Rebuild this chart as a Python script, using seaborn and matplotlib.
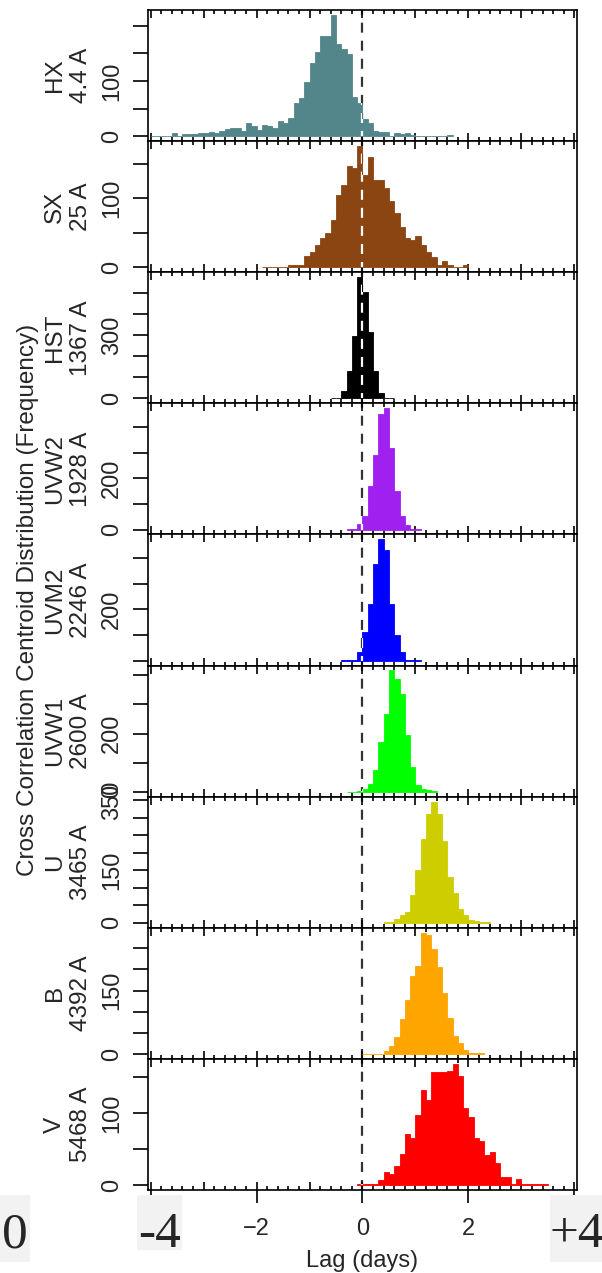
import numpy as np
import pandas as pd
import matplotlib
matplotlib.use("Agg")
import matplotlib.pyplot as plt
import seaborn as sns
from matplotlib.path import Path
from matplotlib.patches import Rectangle
from matplotlib.ticker import MultipleLocator, NullLocator

# ---- data -------------------------------------------------------------
bands = ["HX", "SX", "HST", "UVW2", "UVM2", "UVW1", "U", "B", "V"]
wavelengths = ["4.4 A", "25 A", "1367 A", "1928 A", "2246 A", "2600 A",
               "3465 A", "4392 A", "5468 A"]

bin_width = 0.1
# left edge (days) of the first histogram bin for each band
first_bin = [-4.0, -1.9, -0.6, -0.3, -0.4, -0.3, 0.4, 0.0, -0.1]

counts_hx = [1, 1, 1, 1, 5, 1, 4, 4, 4, 5, 6, 8, 6, 9, 14, 15, 15, 9, 24, 18,
             12, 21, 18, 15, 27, 24, 33, 60, 69, 99, 133, 152, 182, 182, 220,
             168, 158, 149, 71, 60, 32, 24, 10, 8, 8, 1, 5, 4, 6, 2, 1, 1, 1,
             1, 1, 1, 2]
counts_sx = [1, 1, 0, 1, 0, 4, 4, 4, 17, 22, 32, 42, 50, 69, 105, 120, 147,
             144, 176, 134, 160, 127, 127, 115, 96, 79, 58, 43, 40, 45, 32, 23,
             15, 4, 9, 4, 1, 1, 4]
counts_hst = [1, 1, 37, 130, 295, 575, 505, 316, 130, 26, 1, 1]
counts_uvw2 = [1, 1, 21, 51, 169, 290, 452, 473, 319, 152, 51, 16, 1, 1]
counts_uvm2 = [1, 1, 1, 33, 111, 222, 378, 473, 430, 221, 101, 33, 3, 1, 1]
counts_uvw1 = [1, 1, 2, 11, 26, 75, 172, 267, 417, 388, 336, 195, 86, 23, 11,
               6, 3]
counts_u = [3, 3, 10, 22, 31, 81, 152, 240, 311, 347, 311, 233, 132, 86, 41,
            22, 9, 6, 4, 3]
counts_b = [1, 1, 1, 1, 6, 18, 40, 82, 128, 185, 207, 287, 282, 248, 206, 145,
            86, 42, 26, 10, 2, 2, 2]
counts_v = [1, 1, 1, 1, 7, 18, 15, 26, 43, 71, 65, 98, 132, 119, 157, 157, 158,
            159, 169, 152, 108, 95, 66, 61, 42, 46, 31, 11, 11, 1, 8, 2, 2, 1,
            1, 1]
all_counts = [counts_hx, counts_sx, counts_hst, counts_uvw2, counts_uvm2,
              counts_uvw1, counts_u, counts_b, counts_v]

# y-axis tick spacing and which tick values carry a label
ytick_step = [50, 50, 100, 100, 100, 100, 50, 50, 50]
ytick_labelled = [[0, 100], [0, 100], [0, 300], [0, 200], [200], [0, 200],
                  [0, 150, 350], [0, 150], [0, 100]]
xtick_labelled = [-4, -2, 0, 2, 4]

# ---- style ------------------------------------------------------------
colors = ["#53868B", "#8B4513", "#000000", "#A020F0", "#0000FF", "#00FF00",
          "#CDCD00", "#FFA500", "#FF0000"]

sns.set_theme(style="ticks", rc={"font.size": 17, "xtick.labelsize": 17,
                                 "ytick.labelsize": 17, "axes.labelsize": 17.5,
                                 "lines.scale_dashes": False})
plt.rcParams["font.family"] = ["Liberation Sans", "DejaVu Sans"]

W, H = 602, 1273
fig = plt.figure(figsize=(W / 100, H / 100), dpi=100)

left_px, right_px = 148, 577
top_px, bottom_px = 10, 1190
panel_h = (bottom_px - top_px) / len(bands)
dash = (0, (7.2, 5.8))

axes = []
for i, band in enumerate(bands):
    counts = all_counts[i]
    c = colors[i]
    y_top = top_px + i * panel_h
    ax = fig.add_axes([left_px / W, 1 - (y_top + panel_h) / H,
                       (right_px - left_px) / W, panel_h / H])
    axes.append(ax)

    edges = np.round(first_bin[i] + bin_width * np.arange(len(counts) + 1), 3)
    centers = (edges[:-1] + edges[1:]) / 2
    df = pd.DataFrame({"lag": centers, "n": counts})

    # zero-lag reference line: dark on the background ...
    ax.axvline(0, color="#333333", lw=1.6, ls=dash, zorder=0.5)
    sns.histplot(data=df, x="lag", weights="n", bins=list(edges), color=c,
                 edgecolor=c, linewidth=0.6, alpha=1, ax=ax, zorder=1)
    # ... and light where it crosses the bars
    bars = list(ax.patches)
    clip = Path.make_compound_path(
        *[p.get_path().transformed(p.get_patch_transform()) for p in bars])
    wline = ax.axvline(0, color="white", lw=1.6, ls=dash, zorder=2)
    wline.set_clip_path(clip, ax.transData)

    M = max(counts)
    ax.set_xlim(-4.05, 4.05)
    ax.set_ylim(-0.04 * M, 1.04 * M)

    ax.xaxis.set_major_locator(MultipleLocator(1))
    ax.xaxis.set_minor_locator(MultipleLocator(0.2))
    ax.tick_params(axis="x", which="both", direction="in", top=True,
                   bottom=True, labelbottom=False, color="black")
    ax.tick_params(axis="x", which="major", length=5.5, width=1.2)
    ax.tick_params(axis="x", which="minor", length=3.0, width=1.2)

    yt = np.arange(0, 1.04 * M, ytick_step[i])
    ax.set_yticks(yt)
    ax.set_yticklabels([str(int(v)) if int(v) in ytick_labelled[i] else ""
                        for v in yt], rotation=90, va="center")
    ax.yaxis.set_minor_locator(NullLocator())
    ax.tick_params(axis="y", which="major", direction="out", length=10.8,
                   width=1.2, pad=7, left=True, right=False, color="black")

    ax.set_xlabel("")
    ax.set_ylabel(f"{band}\n{wavelengths[i]}", rotation=90, ha="center",
                  va="center", linespacing=1.27, multialignment="center")
    ax.yaxis.set_label_coords(-0.1865, 0.5)

    for s in ax.spines.values():
        s.set_visible(True)
        s.set_linewidth(1.2)
        s.set_color("black")

# labelled lag axis under the last panel
sec = axes[-1].secondary_xaxis("bottom")
sec.set_xticks(xtick_labelled)
sec.set_xticklabels(["" if abs(v) == 4 else f"{v:d}".replace("-", "\u2212")
                     for v in xtick_labelled])
sec.xaxis.set_minor_locator(NullLocator())
sec.tick_params(direction="out", length=9.4, width=1.2, pad=11,
                labelsize=17, color="black")
sec.spines["bottom"].set_visible(False)

fig.text((left_px + right_px) / 2 / W, 1 - 1267 / H, "Lag (days)",
         ha="center", va="baseline", fontsize=17)
fig.text(28 / W, 1 - (top_px + bottom_px) / 2 / H,
         "Cross Correlation Centroid Distribution (Frequency)",
         rotation=90, ha="center", va="center", fontsize=17.5)

# boxed range markers along the bottom
markers = [(0, 30, 1195, 1262, "0", 15),
           (137, 182, 1195, 1250, "-4", 160),
           (550, 602, 1195, 1262, "+4", 577)]
for x0, x1, y0, y1, txt, cx in markers:
    fig.patches.append(Rectangle((x0 / W, 1 - y1 / H), (x1 - x0) / W,
                                 (y1 - y0) / H, transform=fig.transFigure,
                                 facecolor="#f2f2f2", edgecolor="none",
                                 zorder=5))
    fig.text(cx / W, 1 - 1247 / H, txt, family="Liberation Serif",
             fontsize=37, ha="center", va="baseline", zorder=6)

fig.savefig("out.png", dpi=100)
